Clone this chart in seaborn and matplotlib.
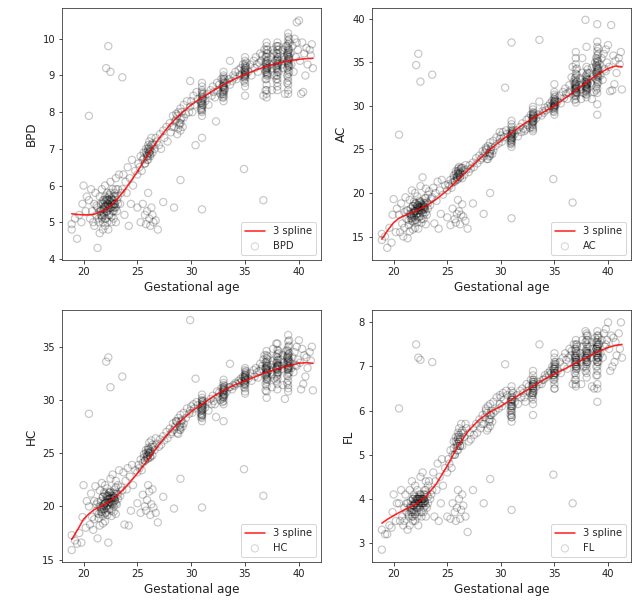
import numpy as np
import pandas as pd
import matplotlib
matplotlib.use("Agg")
import matplotlib.pyplot as plt
import seaborn as sns

# ---------------- scatter data (gestational age shared by all four measures) ----------------
ga = [
    18.9, 18.9, 19.2, 19.4, 19.6, 19.8, 19.9, 20.0, 20.2, 20.3,
    20.5, 20.6, 20.7, 20.8, 20.9, 21.0, 21.0, 21.1, 21.2, 21.3,
    21.3, 21.4, 21.5, 21.5, 21.6, 21.7, 21.7, 21.8, 21.8, 21.9,
    21.9, 22.0, 22.0, 22.0, 22.1, 22.1, 22.2, 22.2, 22.3, 22.3,
    22.4, 22.4, 22.5, 22.5, 22.6, 22.6, 22.7, 22.7, 22.8, 22.8,
    22.9, 22.9, 23.0, 23.0, 23.1, 23.1, 23.2, 23.3, 23.4, 23.5,
    21.2, 21.6, 22.0, 22.3, 22.6, 22.9, 21.9, 22.4, 22.8, 23.2,
    20.5, 22.1, 22.3, 22.5, 23.6,
    23.6, 23.7, 23.8, 23.9, 24.0, 24.1, 24.2, 24.3, 24.4, 24.5, 24.6, 24.8,
    25.0, 25.1, 25.2, 25.3, 25.4, 25.5, 25.6, 25.7, 25.8, 25.9, 26.0, 26.0,
    26.1, 26.1, 26.2, 26.2, 26.3, 26.4, 26.5, 26.6, 26.7, 26.8, 25.9, 26.0,
    25.0, 25.3, 25.5, 25.7, 25.8, 25.9, 26.0, 26.1, 26.2, 26.3, 26.4, 26.5, 26.7, 26.9,
    27.0, 27.1, 27.2, 27.4, 27.5, 27.7, 27.8, 28.0, 28.1, 28.3, 28.4, 28.6, 28.7, 28.8, 28.9,
    29.0, 29.0, 29.1, 29.2, 29.3, 29.5, 29.6, 29.8, 29.9, 30.0, 30.1, 30.2, 30.3, 30.5, 30.6,
    31.0, 31.0, 31.0, 31.0, 31.0, 31.0, 31.0, 31.0, 31.0, 31.0, 31.0, 31.0, 31.0, 31.0, 31.0, 31.0,
    31.3, 31.5, 31.6, 31.8, 31.9, 32.0, 32.1, 32.2, 32.4, 32.5, 32.6, 32.7, 32.8, 32.3,
    33.0, 33.0, 33.0, 33.0, 33.0, 33.0, 33.0, 33.0, 33.0, 33.0, 33.0, 33.0, 33.0, 33.0, 33.0, 33.0,
    33.3, 33.5, 33.6, 33.8, 33.9, 34.0, 34.1, 34.2, 34.4, 34.5, 34.6, 34.7, 34.8, 33.6,
    35.0, 35.0, 35.0, 35.0, 35.0, 35.0, 35.0, 35.0, 35.0, 35.0, 35.0, 35.0, 35.0, 35.0, 35.0, 35.0,
    27.4, 28.4, 29.0, 31.0, 34.9, 36.7, 30.4, 29.9, 31.0,
    35.3, 35.5, 35.6, 35.8, 35.9, 36.0, 36.1, 36.2, 36.4, 36.5, 36.6, 36.7, 36.8, 36.3,
    37.0, 37.0, 37.0, 37.0, 37.0, 37.0, 37.0, 37.0, 37.0, 37.0,
    37.0, 37.0, 37.0, 37.0, 37.0, 37.0, 37.0, 37.0, 37.0, 37.0,
    37.3, 37.4, 37.5, 37.6, 37.7, 37.8, 37.5, 37.6,
    38.0, 38.0, 38.0, 38.0, 38.0, 38.0, 38.0, 38.0, 38.0,
    38.0, 38.0, 38.0, 38.0, 38.0, 38.0, 38.0, 38.0, 38.0,
    38.2, 38.3, 38.4, 38.5, 38.6, 38.7, 38.8, 38.5, 37.9,
    39.0, 39.0, 39.0, 39.0, 39.0, 39.0, 39.0, 39.0, 39.0, 39.0, 39.0,
    39.0, 39.0, 39.0, 39.0, 39.0, 39.0, 39.0, 39.0, 39.0, 39.0, 39.0,
    39.2, 39.3, 39.4, 39.5, 39.6, 39.7, 39.8, 39.9, 40.0, 40.1, 40.2,
    40.3, 40.4, 40.5, 40.6, 40.7, 40.8, 41.0, 41.1, 41.2, 41.3, 39.8,
]

bpd = [
    4.8, 4.95, 5.1, 4.55, 5.2, 5.0, 5.5, 6.0, 5.3, 5.7,
    5.6, 5.1, 5.9, 5.3, 5.0, 5.5, 4.9, 5.8, 5.2, 4.3,
    5.4, 5.0, 5.7, 4.7, 5.3, 5.9, 5.1, 5.5, 4.8, 5.6,
    5.2, 5.4, 6.0, 4.9, 5.6, 5.1, 5.3, 5.8, 5.5, 4.8,
    5.7, 5.2, 5.4, 6.1, 5.0, 5.6, 5.3, 5.9, 5.5, 5.1,
    5.8, 5.4, 6.2, 5.0, 5.6, 5.3, 5.9, 6.3, 5.5, 5.8,
    5.45, 5.35, 5.55, 5.45, 5.65, 5.5, 5.35, 5.6, 5.4, 5.7,
    7.9, 9.2, 9.8, 9.1, 8.95,
    5.9, 6.3, 5.2, 6.1, 5.8, 6.5, 4.9, 6.2, 5.5, 6.7, 6.0, 6.4,
    6.3, 6.6, 6.5, 6.8, 6.4, 6.7, 6.9, 6.6, 7.0, 6.8, 7.1, 6.7,
    6.9, 7.2, 6.8, 7.0, 7.3, 6.9, 7.1, 7.0, 7.3, 7.2, 6.85, 6.95,
    5.4, 5.0, 5.5, 5.2, 4.95, 5.3, 5.8, 5.1, 4.9, 5.4, 5.2, 5.0, 5.05, 4.8,
    7.1, 7.4, 7.0, 7.5, 7.3, 7.6, 7.2, 7.7, 7.45, 7.9, 7.6, 7.8, 7.4, 8.0, 7.7,
    7.5, 8.1, 7.85, 7.6, 8.2, 7.95, 8.3, 8.0, 8.15, 8.3, 8.0, 8.45, 8.2, 8.55, 8.35,
    7.9, 8.0, 8.05, 8.1, 8.2, 8.25, 8.3, 8.35, 8.4, 8.5, 8.55, 8.6, 8.7, 8.15, 8.45, 8.8,
    8.3, 8.5, 8.2, 8.6, 8.45, 8.7, 8.55, 8.4, 8.8, 8.6, 8.75, 8.5, 8.9, 7.75,
    8.3, 8.4, 8.5, 8.55, 8.6, 8.65, 8.7, 8.75, 8.8, 8.85, 8.9, 9.0, 9.1, 8.45, 8.7, 8.95,
    8.8, 8.9, 9.4, 8.85, 9.0, 8.95, 9.1, 8.9, 9.15, 9.0, 9.2, 9.05, 9.3, 8.75,
    8.7, 8.8, 8.9, 8.95, 9.0, 9.05, 9.1, 9.15, 9.2, 9.25, 9.3, 9.4, 9.5, 9.0, 9.1, 8.45,
    5.55, 5.4, 6.15, 5.35, 6.45, 5.6, 7.1, 8.85, 7.3,
    9.1, 9.3, 9.0, 9.4, 9.2, 9.5, 9.3, 9.1, 9.6, 9.4, 9.55, 8.45, 9.7, 9.35,
    8.4, 8.5, 8.6, 8.75, 8.9, 9.0, 9.1, 9.15, 9.2, 9.25,
    9.3, 9.35, 9.4, 9.5, 9.6, 9.7, 9.8, 9.9, 9.2, 9.05,
    9.3, 9.5, 9.2, 9.6, 9.0, 9.4, 8.6, 9.7,
    8.6, 8.7, 8.8, 8.9, 9.0, 9.1, 9.2, 9.3, 9.4,
    9.5, 9.6, 9.7, 9.8, 9.9, 9.25, 9.35, 9.45, 9.15,
    9.4, 9.6, 9.3, 9.7, 9.5, 8.5, 9.8, 9.2, 9.8,
    8.5, 8.6, 8.75, 8.85, 8.95, 9.05, 9.15, 9.25, 9.35, 9.45, 9.55,
    9.65, 9.75, 9.85, 9.95, 10.05, 10.15, 9.3, 9.5, 9.7, 9.4, 9.6,
    9.6, 9.3, 9.8, 9.1, 10.0, 9.5, 10.45, 9.7, 10.5, 9.4, 8.5,
    9.9, 8.55, 9.6, 9.0, 9.75, 9.3, 9.7, 9.55, 9.85, 9.2, 9.9,
]

ac = [
    15.3, 14.6, 15.0, 13.7, 16.0, 14.3, 17.5, 19.3, 15.5, 18.2,
    17.5, 15.5, 18.8, 16.5, 15.0, 17.8, 16.0, 19.5, 17.0, 14.8,
    18.0, 16.3, 19.2, 15.6, 17.4, 20.3, 16.8, 18.5, 15.8, 19.0,
    17.2, 17.9, 20.0, 16.0, 18.8, 16.9, 17.6, 19.6, 18.3, 15.9,
    19.1, 17.3, 18.0, 20.8, 16.6, 18.7, 17.7, 21.8, 18.4, 17.0,
    19.4, 18.1, 20.5, 16.4, 18.9, 17.5, 19.8, 20.2, 18.6, 19.3,
    18.0, 17.6, 18.2, 18.0, 18.5, 18.3, 17.7, 18.4, 18.1, 18.8,
    26.7, 34.7, 36.0, 32.8, 33.6,
    19.5, 20.6, 16.5, 20.0, 19.1, 21.3, 15.9, 20.3, 17.6, 21.5, 19.8, 20.9,
    20.3, 21.0, 20.8, 21.5, 20.6, 21.2, 22.0, 21.4, 22.5, 21.8, 22.8, 21.6,
    22.2, 23.0, 21.9, 22.4, 22.9, 21.7, 22.6, 22.1, 23.2, 22.7, 21.9, 22.3,
    17.2, 16.3, 18.2, 17.0, 16.6, 17.6, 19.2, 17.9, 16.4, 17.5, 18.7, 17.3, 16.8, 15.9,
    22.4, 23.2, 22.8, 23.5, 23.0, 24.0, 23.4, 24.3, 23.8, 24.8, 24.2, 25.0, 23.9, 25.4, 24.6,
    24.3, 25.8, 25.0, 24.5, 26.0, 25.4, 26.4, 25.7, 26.2, 26.6, 25.9, 27.0, 26.4, 27.2, 26.8,
    25.3, 25.6, 25.9, 26.1, 26.3, 26.5, 26.7, 26.9, 27.1, 27.3, 27.6, 27.9, 28.3, 26.2, 26.8, 25.8,
    26.8, 27.2, 26.5, 27.6, 27.0, 28.0, 27.4, 27.1, 28.4, 27.8, 28.6, 27.5, 29.0, 27.3,
    27.1, 27.5, 27.8, 28.1, 28.3, 28.5, 28.7, 28.9, 29.1, 29.3, 29.6, 29.9, 28.2, 28.6, 27.3, 29.0,
    28.6, 29.0, 30.5, 28.9, 29.4, 29.2, 29.8, 29.5, 30.0, 29.7, 30.3, 30.0, 30.6, 37.6,
    29.0, 29.3, 29.6, 29.8, 30.0, 30.2, 30.4, 30.6, 30.8, 31.0, 31.3, 31.6, 30.1, 29.9, 30.5, 32.5,
    18.8, 17.6, 20.0, 17.1, 21.6, 18.9, 32.1, 27.0, 37.3,
    30.5, 31.2, 30.3, 31.6, 30.9, 32.0, 31.4, 30.8, 32.4, 31.8, 33.3, 34.5, 32.8, 31.5,
    30.4, 30.8, 31.1, 31.3, 31.5, 31.7, 31.9, 32.1, 32.3, 32.5,
    32.7, 33.0, 33.3, 33.7, 34.2, 34.8, 35.5, 36.2, 32.0, 31.6,
    32.4, 33.2, 31.9, 33.8, 31.5, 32.8, 30.8, 35.5,
    31.0, 31.3, 31.6, 31.8, 32.0, 32.2, 32.4, 32.6, 32.8,
    33.0, 33.3, 33.6, 34.5, 36.8, 32.1, 32.5, 31.9, 32.7,
    33.0, 33.8, 32.6, 34.4, 33.4, 31.6, 35.0, 30.8, 39.9,
    29.0, 30.2, 31.5, 32.0, 32.5, 33.0, 33.4, 33.8, 34.2, 34.6, 35.0,
    35.4, 35.8, 36.3, 36.8, 37.4, 39.4, 33.6, 34.4, 35.2, 34.0, 32.8,
    34.8, 33.5, 35.5, 33.0, 36.0, 34.2, 36.5, 35.0, 37.0, 34.5, 31.7,
    39.3, 31.8, 35.8, 32.5, 35.2, 33.8, 35.5, 34.8, 36.2, 31.9, 34.0,
]

hc = [
    17.3, 15.9, 16.8, 16.5, 17.5, 16.6, 19.0, 22.0, 18.0, 20.5,
    20.0, 18.3, 21.2, 19.0, 17.8, 20.5, 18.8, 21.9, 19.6, 17.0,
    20.4, 18.9, 21.5, 18.2, 19.8, 22.2, 19.3, 20.9, 18.4, 21.3,
    19.7, 20.3, 22.0, 18.6, 21.0, 19.4, 20.1, 21.7, 20.7, 16.6,
    21.3, 19.8, 20.4, 22.6, 19.1, 21.0, 20.2, 23.0, 20.8, 19.5,
    21.6, 20.5, 22.4, 19.3, 21.2, 20.2, 22.0, 23.4, 21.0, 21.8,
    20.2, 20.0, 20.5, 20.3, 20.8, 20.6, 20.1, 20.7, 20.4, 21.1,
    28.7, 33.6, 34.0, 31.2, 32.2,
    21.5, 23.2, 18.3, 22.4, 21.6, 23.6, 18.2, 22.8, 19.6, 23.9, 22.0, 23.4,
    23.2, 23.9, 23.6, 24.4, 23.4, 24.1, 24.9, 24.3, 25.3, 24.7, 25.5, 24.5,
    25.0, 26.0, 24.6, 25.2, 26.2, 24.8, 25.6, 25.3, 26.4, 25.9, 24.8, 25.1,
    20.3, 19.4, 21.1, 20.0, 19.6, 20.6, 22.0, 21.4, 19.2, 20.2, 21.6, 19.9, 19.4, 18.5,
    25.6, 26.3, 25.8, 26.6, 26.2, 27.0, 26.4, 27.3, 26.8, 27.8, 27.2, 28.0, 26.9, 28.3, 27.6,
    27.2, 28.6, 28.0, 27.5, 28.8, 28.3, 29.2, 28.7, 29.0, 29.4, 28.8, 29.6, 29.2, 29.8, 29.5,
    28.0, 28.3, 28.6, 28.8, 29.0, 29.2, 29.4, 29.6, 29.8, 30.0, 30.2, 30.5, 29.1, 29.5, 28.5, 29.9,
    29.3, 29.8, 29.0, 30.1, 29.6, 30.4, 29.9, 29.6, 30.8, 30.3, 30.7, 30.0, 31.1, 28.4,
    29.6, 29.9, 30.2, 30.4, 30.6, 30.8, 31.0, 31.2, 31.4, 31.6, 31.9, 30.5, 30.9, 28.0, 31.1, 30.3,
    30.8, 31.2, 33.4, 31.0, 31.4, 31.3, 31.6, 31.5, 31.8, 31.6, 32.0, 31.8, 32.2, 31.2,
    30.8, 31.1, 31.4, 31.6, 31.8, 32.0, 32.2, 32.4, 32.6, 32.8, 33.0, 31.9, 32.3, 31.5, 32.1, 30.6,
    20.9, 19.8, 22.6, 19.9, 23.5, 21.0, 32.0, 37.5, 28.6,
    32.0, 32.5, 31.8, 32.8, 32.2, 33.0, 32.6, 32.1, 33.4, 32.9, 33.2, 33.8, 34.2, 32.7,
    30.2, 30.8, 31.3, 31.7, 32.0, 32.2, 32.4, 32.6, 32.8, 33.0,
    33.2, 33.4, 33.6, 33.9, 34.2, 34.6, 32.5, 32.9, 33.1, 31.9,
    32.8, 33.3, 32.4, 33.7, 32.0, 33.1, 31.2, 34.8,
    31.0, 31.5, 32.0, 32.3, 32.6, 32.9, 33.1, 33.3, 33.5,
    33.7, 34.0, 34.3, 34.7, 35.3, 32.8, 33.0, 33.2, 32.5,
    33.2, 33.8, 32.9, 34.2, 33.5, 30.1, 34.6, 31.4, 35.3,
    30.8, 31.4, 31.8, 32.2, 32.5, 32.8, 33.1, 33.4, 33.7, 34.0, 34.3,
    34.6, 35.0, 35.5, 36.1, 33.2, 33.6, 33.9, 32.9, 34.2, 33.0, 31.1,
    33.5, 33.0, 34.0, 32.6, 34.5, 33.3, 35.0, 33.8, 35.6, 33.5, 31.0,
    34.8, 31.5, 34.2, 32.2, 34.0, 33.0, 34.5, 33.7, 35.0, 30.9, 33.2,
]

fl = [
    3.3, 2.85, 3.2, 3.2, 3.4, 3.35, 3.7, 4.1, 3.5, 3.9,
    3.9, 3.5, 4.2, 3.6, 3.4, 3.8, 3.5, 4.1, 3.7, 3.3,
    3.9, 3.6, 4.2, 3.4, 3.8, 4.4, 3.6, 4.0, 3.5, 4.1,
    3.7, 3.9, 4.3, 3.5, 4.0, 3.7, 3.8, 4.2, 4.0, 3.4,
    4.1, 3.8, 3.9, 4.5, 3.6, 4.0, 3.9, 4.6, 4.0, 3.7,
    4.2, 3.9, 4.4, 3.6, 4.1, 3.8, 4.3, 4.4, 4.0, 4.1,
    3.9, 3.85, 3.95, 3.9, 4.0, 3.95, 3.85, 4.0, 3.9, 4.05,
    6.05, 7.5, 7.2, 7.15, 7.1,
    4.2, 4.6, 3.6, 4.4, 4.2, 4.8, 3.5, 4.5, 3.9, 4.9, 4.3, 4.7,
    4.6, 4.9, 4.8, 5.1, 4.7, 5.0, 5.3, 5.0, 5.4, 5.2, 5.5, 5.1,
    5.3, 5.6, 5.2, 5.4, 5.7, 5.2, 5.5, 5.4, 5.7, 5.6, 5.25, 5.35,
    3.6, 3.55, 3.9, 3.7, 3.5, 3.8, 4.2, 4.0, 3.55, 3.75, 4.1, 3.85, 3.6, 3.25,
    5.3, 5.5, 5.35, 5.6, 5.45, 5.7, 5.5, 5.8, 5.6, 5.9, 5.7, 6.0, 5.55, 6.1, 5.8,
    5.65, 6.15, 5.9, 5.75, 6.2, 6.0, 6.3, 6.05, 6.15, 6.3, 6.1, 6.4, 6.25, 6.45, 6.35,
    5.75, 5.85, 5.95, 6.0, 6.05, 6.1, 6.15, 6.2, 6.25, 6.3, 6.35, 6.45, 6.55, 6.1, 6.25, 5.9,
    6.2, 6.35, 6.15, 6.45, 6.3, 6.5, 6.4, 6.3, 6.6, 6.45, 6.55, 6.4, 6.7, 6.2,
    6.15, 6.25, 6.35, 6.4, 6.45, 6.5, 6.55, 6.6, 6.65, 6.7, 6.8, 6.9, 6.5, 6.6, 5.9, 6.4,
    6.55, 6.65, 7.5, 6.6, 6.7, 6.7, 6.8, 6.75, 6.85, 6.8, 6.9, 6.85, 7.0, 6.6,
    6.5, 6.6, 6.7, 6.75, 6.8, 6.85, 6.9, 6.95, 7.0, 7.05, 7.1, 7.2, 7.3, 6.85, 6.95, 6.5,
    4.2, 3.9, 4.45, 3.75, 4.55, 3.9, 7.05, 6.35, 5.85,
    6.9, 7.1, 6.85, 7.2, 7.0, 7.3, 7.15, 6.95, 7.4, 7.25, 7.35, 6.6, 7.5, 7.2,
    6.55, 6.7, 6.8, 6.9, 6.95, 7.0, 7.05, 7.1, 7.15, 7.2,
    7.25, 7.3, 7.35, 7.4, 7.5, 7.6, 7.1, 7.0, 7.2, 6.6,
    7.2, 7.3, 7.1, 7.45, 7.0, 7.25, 6.6, 7.6,
    6.75, 6.85, 6.95, 7.05, 7.1, 7.15, 7.2, 7.3, 7.35,
    7.4, 7.5, 7.6, 7.7, 7.75, 7.25, 7.3, 7.1, 7.2,
    7.3, 7.45, 7.2, 7.55, 7.4, 6.5, 7.65, 6.55, 7.8,
    6.2, 6.6, 6.8, 6.9, 7.0, 7.1, 7.2, 7.25, 7.3, 7.35, 7.4,
    7.45, 7.5, 7.6, 7.7, 7.8, 7.2, 7.35, 7.45, 7.1, 6.5, 7.55,
    7.5, 7.3, 7.6, 7.2, 7.75, 7.45, 7.85, 7.6, 8.0, 7.4, 6.9,
    7.7, 7.0, 7.65, 7.1, 7.55, 7.25, 7.75, 7.4, 8.0, 7.2, 7.5,
]

# ---------------- additional patients in the densest regions ----------------
dense_ga = [
    21.5, 21.6, 21.7, 21.8, 21.9, 22.0, 22.1, 22.2, 22.3, 22.4,
    22.5, 22.6, 22.7, 22.8, 22.9, 23.0, 21.8, 22.0, 22.2, 22.4,
    22.6, 22.8, 21.7, 21.9, 22.1, 22.3, 22.5, 22.7, 22.9, 22.2,
    21.4, 21.6, 21.8, 22.0, 22.2, 22.4, 22.6, 22.8, 23.0, 23.2,
    25.6, 25.8, 26.0, 26.1, 26.2, 26.3, 25.9, 26.0, 26.1, 26.4, 26.2, 25.7,
    28.2, 28.5, 28.7, 28.9, 29.0, 29.1, 29.3, 28.8, 29.0, 28.6,
    30.9, 31.1, 30.9, 31.1, 30.9, 31.1, 30.9, 31.1,
    32.9, 33.1, 32.9, 33.1, 32.9, 33.1, 32.9, 33.1,
    34.9, 35.1, 34.9, 35.1, 34.9, 35.1, 34.9, 35.1,
    36.9, 37.1, 36.9, 37.1, 36.9, 37.1, 36.9, 37.1, 36.9, 37.1, 36.9, 37.1, 36.9, 37.1,
    37.9, 38.1, 37.9, 38.1, 37.9, 38.1, 37.9, 38.1, 37.9, 38.1, 37.9, 38.1,
    38.9, 39.1, 38.9, 39.1, 38.9, 39.1, 38.9, 39.1, 38.9, 39.1, 38.9, 39.1, 38.9, 39.1, 38.9, 39.1,
]
dense_bpd = [
    5.3, 5.5, 5.2, 5.6, 5.4, 5.7, 5.3, 5.5, 5.6, 5.4,
    5.8, 5.5, 5.6, 5.7, 5.5, 5.9, 5.35, 5.45, 5.65, 5.75,
    5.4, 5.6, 5.15, 5.25, 5.45, 5.35, 5.55, 5.45, 5.7, 5.6,
    5.1, 5.2, 5.0, 5.1, 5.0, 5.2, 5.15, 5.3, 5.4, 5.5,
    6.75, 6.9, 6.8, 7.05, 6.95, 7.1, 6.7, 7.0, 6.9, 7.15, 6.85, 6.6,
    7.6, 7.75, 7.9, 7.65, 7.8, 8.0, 7.85, 7.55, 7.7, 7.95,
    8.1, 8.2, 8.3, 8.4, 8.25, 8.35, 8.05, 8.5,
    8.5, 8.6, 8.7, 8.8, 8.55, 8.65, 8.4, 8.9,
    8.95, 9.05, 9.15, 9.25, 9.0, 9.2, 8.85, 9.35,
    8.9, 9.0, 9.1, 9.2, 9.3, 9.4, 9.5, 9.6, 9.15, 9.25, 9.35, 9.05, 8.6, 9.7,
    9.0, 9.1, 9.2, 9.3, 9.4, 9.5, 9.6, 9.7, 9.25, 9.35, 8.9, 9.8,
    9.0, 9.1, 9.2, 9.3, 9.4, 9.5, 9.6, 9.7, 9.8, 9.9, 9.35, 9.45, 9.55, 9.25, 8.8, 10.0,
]
dense_ac = [
    17.6, 18.2, 17.3, 18.5, 17.9, 18.8, 17.5, 18.2, 18.6, 18.0,
    19.0, 18.3, 18.6, 18.9, 18.4, 19.4, 17.7, 17.9, 18.6, 18.9,
    17.9, 18.5, 17.1, 17.4, 18.0, 17.7, 18.4, 18.1, 18.8, 18.5,
    16.9, 17.1, 16.7, 16.9, 16.6, 17.2, 17.0, 17.5, 17.8, 18.2,
    21.7, 22.2, 22.0, 22.6, 22.3, 22.8, 21.5, 22.5, 22.1, 22.9, 21.8, 21.3,
    24.0, 24.6, 25.0, 24.2, 24.8, 25.3, 24.9, 23.9, 24.5, 25.2,
    26.0, 26.4, 26.6, 27.0, 26.3, 26.8, 25.7, 27.2,
    27.9, 28.3, 28.5, 28.9, 28.1, 28.7, 27.6, 29.2,
    29.7, 30.1, 30.3, 30.7, 29.9, 30.5, 29.4, 31.1,
    31.2, 31.5, 31.8, 32.1, 32.4, 32.8, 33.2, 33.6, 32.0, 32.3, 32.6, 31.6, 30.7, 34.3,
    31.7, 32.0, 32.2, 32.5, 32.8, 33.1, 33.4, 33.8, 32.3, 32.6, 31.4, 34.2,
    32.2, 32.7, 33.1, 33.5, 33.9, 34.3, 34.7, 35.1, 35.5, 36.0, 33.7, 34.1, 34.5, 33.3, 31.8, 36.6,
]
dense_hc = [
    20.0, 20.5, 19.7, 20.9, 20.2, 21.2, 19.9, 20.6, 21.0, 20.4,
    21.4, 20.7, 21.0, 21.3, 20.8, 21.8, 20.1, 20.3, 21.0, 21.3,
    20.3, 20.9, 19.5, 19.8, 20.4, 20.1, 20.8, 20.5, 21.2, 20.9,
    19.3, 19.5, 19.1, 19.4, 19.2, 19.7, 19.6, 20.0, 20.3, 20.7,
    24.6, 25.0, 24.8, 25.4, 25.1, 25.6, 24.5, 25.3, 25.0, 25.8, 24.7, 24.3,
    27.0, 27.5, 27.9, 27.2, 27.7, 28.1, 27.8, 26.8, 27.4, 28.0,
    28.7, 29.1, 29.3, 29.7, 29.0, 29.5, 28.4, 29.9,
    30.1, 30.5, 30.7, 31.1, 30.3, 30.9, 29.8, 31.3,
    31.5, 31.9, 32.1, 32.5, 31.7, 32.3, 31.2, 32.7,
    31.5, 31.9, 32.3, 32.6, 32.9, 33.2, 33.5, 33.8, 32.4, 32.7, 33.0, 32.1, 30.9, 34.1,
    32.2, 32.6, 32.9, 33.2, 33.5, 33.8, 34.1, 34.4, 33.0, 33.3, 31.8, 34.6,
    32.3, 32.6, 32.9, 33.2, 33.5, 33.8, 34.1, 34.4, 34.7, 35.1, 33.3, 33.6, 33.9, 33.0, 31.6, 35.6,
]
dense_fl = [
    3.8, 3.95, 3.75, 4.0, 3.85, 4.05, 3.8, 3.95, 4.0, 3.9,
    4.1, 3.95, 4.0, 4.1, 3.95, 4.2, 3.85, 3.9, 4.0, 4.05,
    3.9, 4.0, 3.7, 3.75, 3.9, 3.85, 4.0, 3.9, 4.1, 4.0,
    3.65, 3.7, 3.6, 3.65, 3.6, 3.7, 3.7, 3.8, 3.85, 3.9,
    5.15, 5.3, 5.2, 5.45, 5.35, 5.5, 5.1, 5.4, 5.3, 5.55, 5.2, 5.0,
    5.7, 5.85, 5.95, 5.75, 5.9, 6.0, 5.95, 5.6, 5.8, 6.05,
    6.0, 6.1, 6.2, 6.3, 6.1, 6.25, 5.9, 6.4,
    6.35, 6.45, 6.55, 6.65, 6.4, 6.6, 6.3, 6.7,
    6.8, 6.85, 6.95, 7.05, 6.8, 7.0, 6.7, 7.1,
    6.85, 6.95, 7.05, 7.1, 7.2, 7.3, 7.4, 7.5, 7.1, 7.15, 7.25, 7.0, 6.7, 7.45,
    7.0, 7.1, 7.15, 7.25, 7.35, 7.45, 7.55, 7.6, 7.2, 7.3, 6.9, 7.7,
    7.0, 7.1, 7.15, 7.2, 7.3, 7.35, 7.4, 7.5, 7.55, 7.65, 7.25, 7.3, 7.4, 7.2, 6.8, 7.7,
]

# ---------------- fitted spline curves ----------------
curve_ga = [18.9, 19.5, 20.0, 20.5, 21.0, 22.0, 23.0, 24.0, 25.0, 26.0, 27.0, 28.0, 29.0,
            30.0, 31.0, 32.0, 33.0, 34.0, 35.0, 36.0, 37.0, 38.0, 39.0, 40.0, 40.7, 41.3]
curve_bpd = [5.23, 5.21, 5.20, 5.20, 5.22, 5.33, 5.58, 5.95, 6.38, 6.85, 7.28, 7.65, 7.95,
             8.20, 8.40, 8.58, 8.75, 8.90, 9.03, 9.15, 9.25, 9.33, 9.40, 9.44, 9.46, 9.47]
curve_ac = [14.7, 15.8, 16.6, 17.1, 17.4, 17.9, 18.5, 19.3, 20.3, 21.5, 22.7, 23.9, 25.0,
            26.0, 26.9, 27.8, 28.6, 29.3, 30.0, 30.9, 31.8, 32.7, 33.6, 34.3, 34.6, 34.5]
curve_hc = [16.9, 17.9, 18.8, 19.3, 19.7, 20.2, 20.9, 21.9, 23.1, 24.4, 25.8, 27.0, 28.0,
            28.9, 29.6, 30.3, 30.9, 31.4, 31.8, 32.2, 32.6, 32.9, 33.2, 33.45, 33.5, 33.45]
curve_fl = [3.45, 3.55, 3.62, 3.69, 3.75, 3.87, 4.05, 4.35, 4.75, 5.20, 5.55, 5.80, 5.97,
            6.10, 6.25, 6.40, 6.55, 6.70, 6.83, 6.95, 7.08, 7.20, 7.33, 7.43, 7.48, 7.50]

measures = ["BPD", "AC", "HC", "FL"]

points = pd.DataFrame({
    "ga": ga + dense_ga,
    "BPD": bpd + dense_bpd,
    "AC": ac + dense_ac,
    "HC": hc + dense_hc,
    "FL": fl + dense_fl,
})
curve_df = pd.DataFrame({"ga": curve_ga, "BPD": curve_bpd, "AC": curve_ac,
                         "HC": curve_hc, "FL": curve_fl})

# ---------------- layout ----------------
sns.set_style("white")
plt.rcParams["font.family"] = ["DejaVu Sans"]

W, H = 633, 607
fig = plt.figure(figsize=(W / 72, H / 72), dpi=72)

boxes = {
    "BPD": (62, 8, 321, 260),
    "AC": (372, 8, 631, 260),
    "HC": (62, 310, 321, 562),
    "FL": (372, 310, 631, 562),
}
limits = {
    "BPD": ((18.0, 42.05), (3.97, 10.84), [4, 5, 6, 7, 8, 9, 10]),
    "AC": ((17.98, 42.15), (12.3, 41.26), [15, 20, 25, 30, 35, 40]),
    "HC": ((18.0, 42.05), (14.78, 38.45), [15, 20, 25, 30, 35]),
    "FL": ((17.98, 42.14), (2.57, 8.28), [3, 4, 5, 6, 7, 8]),
}

for m in measures:
    l, t, r, b = boxes[m]
    ax = fig.add_axes([l / W, 1 - b / H, (r - l) / W, (b - t) / H])
    sns.lineplot(data=curve_df, x="ga", y=m, ax=ax, color="red", alpha=0.85,
                 linewidth=1.6, label="3 spline", estimator=None, sort=False)
    sns.scatterplot(data=points, x="ga", y=m, ax=ax, marker="o", s=52,
                    facecolors="none", edgecolor="black", linewidth=1.2,
                    alpha=0.22, label=m)
    xl, yl, yt = limits[m]
    ax.set_xlim(*xl)
    ax.set_ylim(*yl)
    ax.set_xticks([20, 25, 30, 35, 40])
    ax.set_yticks(yt)
    ax.tick_params(axis="both", which="major", length=3.5, width=0.8,
                   labelsize=10, bottom=True, left=True, colors="#222222")
    ax.set_xlabel("Gestational age", fontsize=12, color="#222222")
    ax.set_ylabel(m, fontsize=12, color="#222222")
    for s in ax.spines.values():
        s.set_color("#333333")
        s.set_linewidth(0.8)
        s.set_visible(True)
    leg = ax.legend(loc="lower right", fontsize=10, frameon=True, framealpha=0.8,
                    edgecolor="#cccccc", fancybox=True, handlelength=2.0)
    for h in leg.legend_handles[1:]:
        try:
            h.set_facecolor("none")
            h.set_edgecolor("black")
            h.set_alpha(0.15)
        except Exception:
            pass

fig.savefig("out.png", dpi=72, facecolor="white")
